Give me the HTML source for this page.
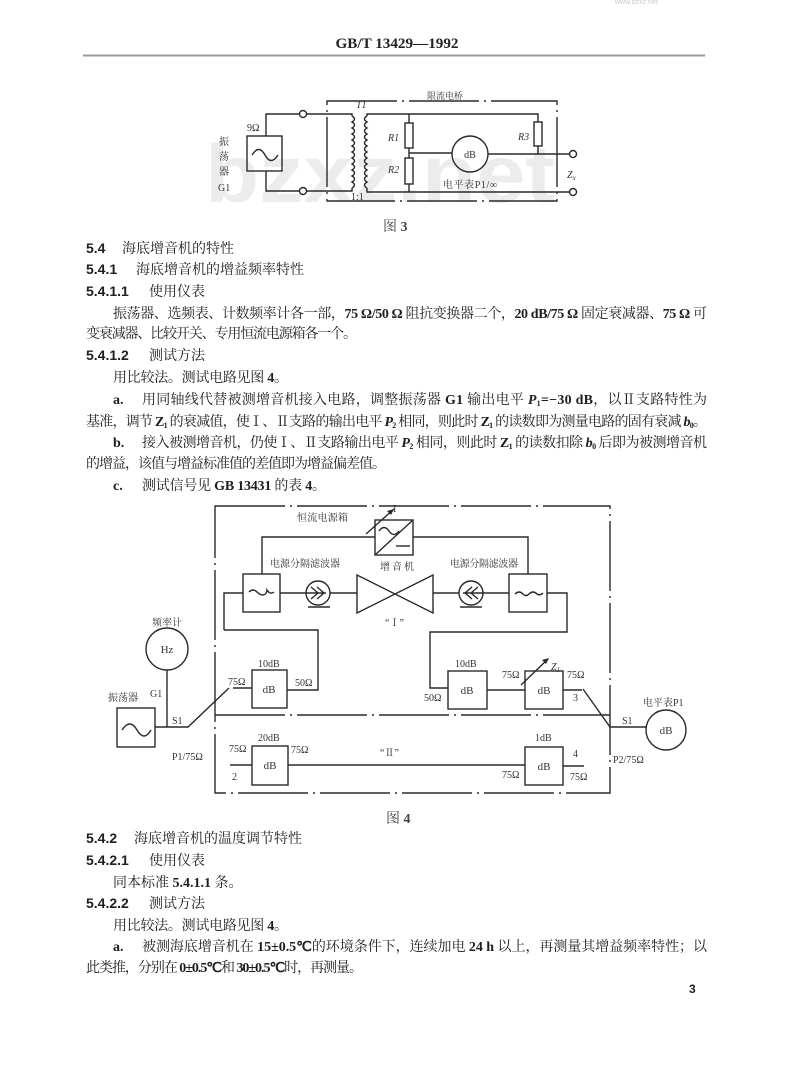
<!DOCTYPE html>
<html><head><meta charset="utf-8"><style>
html,body{margin:0;padding:0;background:#fff;}
#pg{position:relative;width:800px;height:1091px;overflow:hidden;background:#fff;}
svg{position:absolute;left:0;top:0;}
.cn{font-family:"Liberation Serif","Noto Serif CJK SC",serif;font-size:14px;fill:#1e1e1e;}
.num{font-family:"Liberation Sans","Noto Sans CJK SC",sans-serif;font-size:14px;font-weight:bold;fill:#1e1e1e;}
.b{font-weight:bold;font-family:"Liberation Serif",serif;}
.lb{font-family:"Liberation Serif","Noto Serif CJK SC",serif;font-size:10px;fill:#333;}
.w{stroke:#2a2a2a;stroke-width:1.4;fill:none;}
.d{stroke:#2a2a2a;stroke-width:1.4;fill:none;stroke-dasharray:70 5 2 5;}
</style></head><body><div id="pg">
<svg width="800" height="1091" viewBox="0 0 800 1091" xmlns="http://www.w3.org/2000/svg">
<!-- header -->
<text x="397" y="48" text-anchor="middle" style="font-family:'Liberation Serif',serif;font-weight:bold;font-size:15px;fill:#222" textLength="123" lengthAdjust="spacingAndGlyphs">GB/T 13429—1992</text>
<line x1="83" y1="55.5" x2="705" y2="55.5" stroke="#999" stroke-width="2"/>
<text x="615" y="4" style="font-family:'Liberation Sans',sans-serif;font-size:7px;fill:#ccc">www.bzxz.net</text>

<!-- watermark -->
<text x="205" y="202" style="font-family:'Liberation Sans',sans-serif;font-weight:bold;font-size:82px;fill:#ececec" textLength="350" lengthAdjust="spacingAndGlyphs">bzxz.net</text>

<!-- ================= Figure 3 ================= -->
<rect x="327" y="101" width="230" height="100" class="d"/>
<text x="427" y="99" class="lb" style="font-size:9px">限流电桥</text>
<text x="356" y="108" class="lb" style="font-style:italic">T1</text>
<text x="351" y="200" class="lb">1:1</text>
<!-- generator -->
<rect x="247" y="136" width="35" height="35" class="w"/>
<path d="M252,155 q7,-11 13,0 t13,0" class="w"/>
<text x="247" y="131" class="lb">9Ω</text>
<text x="219" y="145" class="lb">振</text>
<text x="219" y="160" class="lb">荡</text>
<text x="219" y="175" class="lb">器</text>
<text x="218" y="191" class="lb">G1</text>
<path d="M266,136 V114 H299.5 M306.5,114 H352 V116" class="w"/>
<path d="M266,171 V191 H299.5 M306.5,191 H352 V188" class="w"/>
<circle cx="303" cy="114" r="3.5" class="w"/>
<circle cx="303" cy="191" r="3.5" class="w"/>
<!-- coils -->
<path d="M352,116 q5,3 0,6 q5,3 0,6 q5,3 0,6 q5,3 0,6 q5,3 0,6 q5,3 0,6 q5,3 0,6 q5,3 0,6 q5,3 0,6 q5,3 0,6 q5,3 0,6 q5,3 0,6" class="w"/>
<path d="M367,116 q-5,3 0,6 q-5,3 0,6 q-5,3 0,6 q-5,3 0,6 q-5,3 0,6 q-5,3 0,6 q-5,3 0,6 q-5,3 0,6 q-5,3 0,6 q-5,3 0,6 q-5,3 0,6 q-5,3 0,6" class="w"/>
<path d="M367,116 V114 H538 V122" class="w"/>
<path d="M367,188 V192 H569.5" class="w"/>
<!-- R1 R2 -->
<path d="M409,114 V123 M409,148 V158 M409,184 V192" class="w"/>
<rect x="405" y="123" width="8" height="25" class="w"/>
<rect x="405" y="158" width="8" height="26" class="w"/>
<text x="388" y="141" class="lb" style="font-style:italic">R1</text>
<text x="388" y="173" class="lb" style="font-style:italic">R2</text>
<path d="M409,153 H452" class="w"/>
<circle cx="470" cy="154" r="18" class="w"/>
<text x="470" y="158" text-anchor="middle" class="lb">dB</text>
<path d="M488,154 H569.5" class="w"/>
<rect x="534" y="122" width="8" height="24" class="w"/>
<path d="M538,146 V154" class="w"/>
<text x="518" y="140" class="lb" style="font-style:italic">R3</text>
<circle cx="573" cy="154" r="3.5" class="w"/>
<circle cx="573" cy="192" r="3.5" class="w"/>
<text x="567" y="178" class="lb" style="font-style:italic">Z<tspan font-size="7" dy="2">x</tspan></text>
<text x="443" y="188" class="lb" textLength="54">电平表P1/∞</text>
<text x="383" y="231" class="cn" style="fill:#444">图 <tspan class="b">3</tspan></text>

<!-- ================= body text 1 ================= -->
<text x="86" y="253" class="num">5.4</text><text x="122" y="253" class="cn">海底增音机的特性</text>
<text x="86" y="274" class="num">5.4.1</text><text x="136" y="274" class="cn">海底增音机的增益频率特性</text>
<text x="86" y="296" class="num">5.4.1.1</text><text x="149" y="296" class="cn">使用仪表</text>
<text x="113" y="318" class="cn" textLength="594" lengthAdjust="spacing">振荡器、选频表、计数频率计各一部，<tspan class="b">75 Ω/50 Ω</tspan> 阻抗变换器二个，<tspan class="b">20 dB/75 Ω</tspan> 固定衰减器、<tspan class="b">75 Ω</tspan> 可</text>
<text x="86" y="338" class="cn" textLength="271" lengthAdjust="spacing">变衰减器、比较开关、专用恒流电源箱各一个。</text>
<text x="86" y="360" class="num">5.4.1.2</text><text x="149" y="360" class="cn">测试方法</text>
<text x="113" y="382" class="cn" textLength="175" lengthAdjust="spacing">用比较法。测试电路见图 <tspan class="b">4</tspan>。</text>
<text x="113" y="404" class="cn"><tspan class="b">a.</tspan></text>
<text x="142" y="404" class="cn" textLength="565" lengthAdjust="spacing">用同轴线代替被测增音机接入电路，调整振荡器 <tspan class="b">G1</tspan> 输出电平 <tspan class="b" font-style="italic">P</tspan><tspan class="b" font-size="8" dy="2">1</tspan><tspan class="b" dy="-2">=−30 dB</tspan>，以Ⅱ支路特性为</text>
<text x="86" y="426" class="cn" textLength="621" lengthAdjust="spacing">基准，调节 <tspan class="b">Z</tspan><tspan class="b" font-size="8" dy="2">1</tspan><tspan dy="-2"> 的衰减值，使Ⅰ、Ⅱ支路的输出电平 </tspan><tspan class="b" font-style="italic">P</tspan><tspan class="b" font-size="8" dy="2">2</tspan><tspan dy="-2"> 相同，则此时 </tspan><tspan class="b">Z</tspan><tspan class="b" font-size="8" dy="2">1</tspan><tspan dy="-2"> 的读数即为测量电路的固有衰减 </tspan><tspan class="b" font-style="italic">b</tspan><tspan class="b" font-size="8" dy="2">0</tspan><tspan dy="-2">。</tspan></text>
<text x="113" y="447" class="cn"><tspan class="b">b.</tspan></text>
<text x="142" y="447" class="cn" textLength="565" lengthAdjust="spacing">接入被测增音机，仍使Ⅰ、Ⅱ支路输出电平 <tspan class="b" font-style="italic">P</tspan><tspan class="b" font-size="8" dy="2">2</tspan><tspan dy="-2"> 相同，则此时 </tspan><tspan class="b">Z</tspan><tspan class="b" font-size="8" dy="2">1</tspan><tspan dy="-2"> 的读数扣除 </tspan><tspan class="b" font-style="italic">b</tspan><tspan class="b" font-size="8" dy="2">0</tspan><tspan dy="-2"> 后即为被测增音机</tspan></text>
<text x="86" y="468" class="cn" textLength="300" lengthAdjust="spacing">的增益，该值与增益标准值的差值即为增益偏差值。</text>
<text x="113" y="490" class="cn"><tspan class="b">c.</tspan></text>
<text x="142" y="490" class="cn" textLength="184" lengthAdjust="spacing">测试信号见 <tspan class="b">GB 13431</tspan> 的表 <tspan class="b">4</tspan>。</text>

<!-- ================= Figure 4 ================= -->
<path d="M215,506 H610 V793 H215 Z" class="d"/>
<line x1="215" y1="715" x2="610" y2="715" class="d"/>
<!-- power supply -->
<text x="297" y="521" class="lb" textLength="51">恒流电源箱</text>
<rect x="375" y="520" width="38" height="35" class="w"/>
<path d="M375,555 L413,520" class="w"/>
<path d="M379,531 q5,-7 10,0 t10,0" class="w"/>
<path d="M396,546 H410" class="w"/>
<path d="M366,534 L394,509" class="w"/>
<path d="M394,509 l-7,2 l4,4 z" fill="#2a2a2a"/>
<text x="393" y="512" class="lb">I</text>
<path d="M375,537 H262 V574 M413,537 H528 V574" class="w"/>
<text x="270" y="567" class="lb" textLength="70">电源分隔滤波器</text>
<text x="450" y="567" class="lb" textLength="68">电源分隔滤波器</text>
<!-- filters -->
<rect x="243" y="574" width="37" height="38" class="w"/>
<path d="M249,592 q4,-4 8,0 q3,3 6,3 q4,-1 4,-5 q3,5 7,2" class="w" stroke-width="1"/>
<rect x="509" y="574" width="38" height="38" class="w"/>
<path d="M515,594 q4,-4 8,0 q3,3 6,0 q4,-4 8,0 q3,2 6,-1" class="w" stroke-width="1"/>
<!-- main wire -->
<path d="M224,630 V593 H243 M280,593 H306 M330,593 H357 M433,593 H459 M483,593 H509 M547,593 H567 V632 H430 V688 H448" class="w"/>
<path d="M224,630 H318 V690 H287" class="w"/>
<!-- circles -->
<circle cx="318" cy="593" r="12" class="w"/>
<path d="M306,593 H326 M311,587 L318,593 L311,599 M317,587 L324,593 L317,599" class="w" stroke-width="1.1"/>
<path d="M308,607 H330" class="w"/>
<circle cx="471" cy="593" r="12" class="w"/>
<path d="M463,593 H483 M478,587 L471,593 L478,599 M472,587 L465,593 L472,599" class="w" stroke-width="1.1"/>
<path d="M460,607 H482" class="w"/>
<!-- amplifier -->
<path d="M357,575 L433,613 L433,575 L357,613 Z" class="w"/>
<text x="380" y="570" class="lb" textLength="34">增音机</text>
<text x="385" y="626" class="lb">“Ⅰ”</text>
<!-- left 10dB -->
<rect x="252" y="670" width="35" height="38" class="w"/>
<text x="269" y="693" text-anchor="middle" class="lb" style="font-size:11px">dB</text>
<text x="258" y="667" class="lb">10dB</text>
<text x="295" y="686" class="lb">50Ω</text>
<text x="228" y="685" class="lb">75Ω</text>
<path d="M233,688 H252" class="w"/>
<path d="M229,688 L188,727 H155" class="w"/>
<!-- freq counter -->
<circle cx="167" cy="649" r="21" class="w"/>
<text x="167" y="653" text-anchor="middle" class="lb" style="font-size:11px">Hz</text>
<text x="167" y="626" text-anchor="middle" class="lb">频率计</text>
<path d="M167,670 V727" class="w"/>
<text x="150" y="697" class="lb">G1</text>
<text x="108" y="701" class="lb">振荡器</text>
<rect x="117" y="708" width="38" height="39" class="w"/>
<path d="M122,730 q8,-12 15,0 t14,0" class="w"/>
<text x="172" y="724" class="lb">S1</text>
<text x="172" y="760" class="lb">P1/75Ω</text>
<!-- 20dB -->
<rect x="252" y="746" width="36" height="39" class="w"/>
<text x="270" y="769" text-anchor="middle" class="lb" style="font-size:11px">dB</text>
<text x="258" y="741" class="lb">20dB</text>
<text x="229" y="752" class="lb">75Ω</text>
<text x="291" y="753" class="lb">75Ω</text>
<path d="M230,765 H252" class="w" stroke-width="2"/>
<text x="232" y="780" class="lb">2</text>
<path d="M288,765 H525" class="w" stroke-width="1.8"/>
<text x="380" y="756" class="lb">“Ⅱ”</text>
<!-- 1dB -->
<rect x="525" y="747" width="38" height="38" class="w"/>
<text x="544" y="770" text-anchor="middle" class="lb" style="font-size:11px">dB</text>
<text x="535" y="741" class="lb">1dB</text>
<text x="502" y="778" class="lb">75Ω</text>
<path d="M563,766 H584" class="w" stroke-width="2.6"/>
<text x="573" y="757" class="lb">4</text>
<text x="570" y="780" class="lb">75Ω</text>
<!-- upper right 10dB -->
<rect x="448" y="671" width="39" height="38" class="w"/>
<text x="467" y="694" text-anchor="middle" class="lb" style="font-size:11px">dB</text>
<text x="455" y="667" class="lb">10dB</text>
<text x="424" y="701" class="lb">50Ω</text>
<path d="M487,690 H525" class="w"/>
<rect x="525" y="671" width="38" height="38" class="w"/>
<text x="544" y="694" text-anchor="middle" class="lb" style="font-size:11px">dB</text>
<path d="M521,685 L548,659" class="w"/>
<path d="M549,658 l-7,2 l4,4 z" fill="#2a2a2a"/>
<text x="551" y="670" class="lb" style="font-style:italic">Z<tspan font-size="7" dy="2">1</tspan></text>
<text x="502" y="678" class="lb">75Ω</text>
<text x="567" y="678" class="lb">75Ω</text>
<path d="M563,690 H582" class="w"/>
<text x="573" y="701" class="lb">3</text>
<path d="M583,689 L610,727 H646" class="w"/>
<circle cx="666" cy="730" r="20" class="w"/>
<text x="666" y="734" text-anchor="middle" class="lb" style="font-size:11px">dB</text>
<text x="643" y="706" class="lb">电平表P1</text>
<text x="622" y="724" class="lb">S1</text>
<text x="613" y="763" class="lb">P2/75Ω</text>
<text x="386" y="823" class="cn" style="fill:#444">图 <tspan class="b">4</tspan></text>

<!-- ================= body text 2 ================= -->
<text x="86" y="843" class="num">5.4.2</text><text x="134" y="843" class="cn">海底增音机的温度调节特性</text>
<text x="86" y="865" class="num">5.4.2.1</text><text x="149" y="865" class="cn">使用仪表</text>
<text x="113" y="887" class="cn">同本标准 <tspan class="b">5.4.1.1</tspan> 条。</text>
<text x="86" y="908" class="num">5.4.2.2</text><text x="149" y="908" class="cn">测试方法</text>
<text x="113" y="930" class="cn" textLength="175" lengthAdjust="spacing">用比较法。测试电路见图 <tspan class="b">4</tspan>。</text>
<text x="113" y="951" class="cn"><tspan class="b">a.</tspan></text>
<text x="142" y="951" class="cn" textLength="565" lengthAdjust="spacing">被测海底增音机在 <tspan class="b">15±0.5℃</tspan>的环境条件下，连续加电 <tspan class="b">24 h</tspan> 以上，再测量其增益频率特性；以</text>
<text x="86" y="972" class="cn" textLength="277" lengthAdjust="spacing">此类推，分别在 <tspan class="b">0±0.5℃</tspan>和 <tspan class="b">30±0.5℃</tspan>时，再测量。</text>
<text x="689" y="993" class="num" style="font-size:12px">3</text>
</svg>
</div></body></html>
